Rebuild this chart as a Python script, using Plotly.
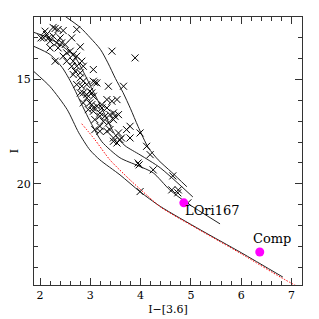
import plotly.graph_objects as go

# Observed stars (I-[3.6], I)
star_x = [2.30, 2.36, 2.46, 2.10, 2.13, 2.07, 2.17, 2.26, 2.40, 2.63, 2.20, 2.33, 2.43, 2.50, 2.20, 2.36,
          2.80, 2.60, 2.53, 2.66, 2.46, 2.73, 2.30, 2.53, 2.66, 2.83, 2.63, 2.73, 2.86, 3.06, 2.70, 2.80,
          2.66, 2.80, 2.86, 3.06, 3.13, 2.93, 3.36, 3.66, 3.43, 3.89, 2.73, 2.86, 2.99, 3.06, 2.93, 3.33,
          3.43, 2.86, 3.03, 3.13, 3.23, 2.96, 3.06, 3.33, 3.56, 3.49, 3.29, 3.79, 3.72, 3.99, 3.09, 3.19,
          3.33, 3.46, 3.59, 3.79, 4.12, 4.19, 3.46, 3.53, 3.95, 4.25, 4.62, 4.75, 3.99, 3.39, 3.46, 3.19,
          3.09, 3.97, 4.64, 4.74, 4.94, 3.09, 2.26, 2.02, 2.73, 2.83, 2.80, 2.93, 3.03, 3.53, 2.99, 3.06,
          3.23, 3.19, 3.46, 3.26, 3.36, 3.19, 3.39, 3.56, 3.62]
star_y = [12.55, 12.60, 12.65, 12.68, 12.84, 13.00, 13.00, 12.92, 13.00, 13.00, 13.16, 13.24, 13.24, 13.32, 13.48, 13.48,
          13.43, 13.64, 13.72, 13.80, 13.88, 13.88, 14.12, 14.12, 14.12, 14.12, 14.36, 14.36, 14.36, 14.52, 14.60, 14.68,
          14.76, 14.92, 15.08, 15.08, 15.16, 15.24, 15.32, 15.32, 13.64, 13.96, 12.60, 15.64, 15.56, 15.80, 15.88, 15.96,
          16.04, 16.12, 16.20, 16.28, 16.36, 16.44, 16.52, 16.36, 16.68, 16.76, 16.76, 17.24, 17.40, 17.56, 17.40, 17.48,
          17.48, 17.80, 17.88, 17.80, 18.20, 18.60, 17.96, 18.04, 19.00, 19.33, 20.29, 20.29, 20.37, 16.68, 16.92, 16.76,
          16.92, 19.09, 19.62, 20.43, 20.91, 15.14, 12.50, 13.00, 15.24, 15.32, 15.64, 15.72, 15.64, 15.96, 16.12, 16.36,
          16.20, 16.60, 16.60, 17.00, 17.08, 17.24, 17.40, 17.56, 17.80]

# Model isochrones
iso1_x = [2.50, 2.80, 3.00, 3.20, 3.35, 3.50, 3.65, 3.80, 3.95, 4.15, 4.35, 4.62, 4.92]
iso1_y = [11.97, 12.50, 13.00, 13.55, 14.20, 14.95, 15.62, 16.40, 17.25, 18.25, 18.85, 19.45, 20.14]
iso2_x = [1.88, 2.10, 2.40, 2.70, 2.89, 3.09, 3.29, 3.49, 3.69, 3.99, 4.39, 5.04]
iso2_y = [12.74, 12.93, 13.32, 13.94, 14.76, 15.72, 16.68, 17.64, 18.17, 18.61, 19.23, 20.63]
iso3_x = [1.88, 2.20, 2.44, 2.64, 2.83, 3.03, 3.23, 3.59, 3.95, 4.25, 4.58, 4.92, 5.58]
iso3_y = [13.41, 13.80, 14.42, 15.24, 16.20, 17.16, 17.98, 18.75, 19.13, 19.47, 20.29, 20.91, 21.92]
iso4_x = [1.88, 2.20, 2.54, 2.77, 2.99, 3.19, 3.59, 3.99, 4.39, 5.20, 6.00, 6.83]
iso4_y = [14.62, 15.34, 16.44, 17.55, 18.37, 18.85, 19.57, 20.38, 21.08, 22.22, 23.30, 24.47]
red_x = [2.83, 3.09, 3.39, 3.79, 4.15, 4.40, 5.20, 6.00, 6.80, 7.22]
red_y = [17.12, 17.88, 18.85, 19.81, 20.60, 21.12, 22.25, 23.35, 24.50, 25.05]

# Highlighted objects
obj_names = ["LOri167", "Comp"]
obj_x = [4.86, 6.37]
obj_y = [20.91, 23.27]
label_x = [5.42, 6.61]
label_y = [21.30, 22.64]

FONT = "DejaVu Serif"

fig = go.Figure()
for xs, ys in [(iso1_x, iso1_y), (iso2_x, iso2_y), (iso3_x, iso3_y), (iso4_x, iso4_y)]:
    fig.add_trace(go.Scatter(x=xs, y=ys, mode="lines",
                             line=dict(color="#222222", width=1, shape="spline", smoothing=0.7),
                             showlegend=False, hoverinfo="skip"))
fig.add_trace(go.Scatter(x=red_x, y=red_y, mode="lines",
                         line=dict(color="#ff0000", width=1, dash="1.5px,1.5px", shape="spline", smoothing=0.7),
                         showlegend=False))
fig.add_trace(go.Scatter(x=star_x, y=star_y, mode="markers",
                         marker=dict(symbol="x-thin", size=7, line=dict(color="black", width=1)),
                         showlegend=False))
fig.add_trace(go.Scatter(x=obj_x, y=obj_y, mode="markers",
                         marker=dict(symbol="circle", size=9, color="#ff00ff"), showlegend=False))
for name, lx, ly in zip(obj_names, label_x, label_y):
    fig.add_annotation(x=lx, y=ly, text=name, showarrow=False,
                       font=dict(family=FONT, size=13, color="black"))

axis_common = dict(showline=True, linecolor="#333333", linewidth=1, mirror="ticks", ticks="inside",
                   tickcolor="#333333", showgrid=False, zeroline=False, automargin=False,
                   tickfont=dict(family=FONT, size=11, color="black"))
fig.update_xaxes(range=[1.88, 7.21], dtick=1, tick0=0, ticklen=7,
                 minor=dict(ticks="inside", dtick=0.2, ticklen=4, tickcolor="#333333", showgrid=False),
                 title=dict(text="I−[3.6]", font=dict(family=FONT, size=11, color="black"), standoff=4),
                 **axis_common)
fig.update_yaxes(range=[24.85, 12.0], dtick=5, tick0=0, ticklen=7,
                 minor=dict(ticks="inside", dtick=1, ticklen=4, tickcolor="#333333", showgrid=False),
                 title=dict(text="I", font=dict(family=FONT, size=11, color="black"), standoff=10),
                 **axis_common)
# the page body adds an 8px offset, so the figure is drawn 8px smaller with shifted margins
fig.update_layout(width=311, height=311, margin=dict(l=26, r=17, t=9, b=34, autoexpand=False),
                  plot_bgcolor="white", paper_bgcolor="white", showlegend=False)
fig.write_html("out.html")
